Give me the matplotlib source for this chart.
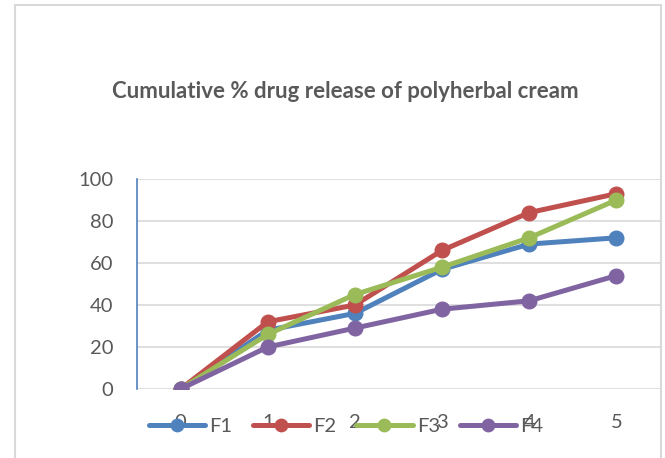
import matplotlib
matplotlib.use("Agg")
import matplotlib.pyplot as plt
from matplotlib.patches import Rectangle

plt.rcParams['font.family'] = ['Lato', 'DejaVu Sans']

# time points and cumulative % drug release for each formulation
time = [0, 1, 2, 3, 4, 5]
f1 = [0, 28, 36, 57, 69, 72]
f2 = [0, 32, 40, 66, 84, 93]
f3 = [0, 26, 45, 58, 72, 90]
f4 = [0, 20, 29, 38, 42, 54]

series = [("F1", f1, "#4F81BD"),
          ("F2", f2, "#C0504D"),
          ("F3", f3, "#9BBB59"),
          ("F4", f4, "#8064A2")]

W, H = 665, 458
fig = plt.figure(figsize=(W / 100, H / 100), dpi=100)

# light grey chart border, as in the Excel original
fig.patches.append(Rectangle((15 / W, -0.1), (661 - 15) / W, 1.1 - 5 / H,
                             transform=fig.transFigure, fill=False,
                             edgecolor="#d9d9d9", linewidth=1.5))

ax = fig.add_axes([137 / W, (H - 389) / H, (660 - 137) / W, (389 - 179) / H])

for name, vals, col in series:
    ax.plot(time, vals, color=col, linewidth=3.6, marker="o",
            markersize=10.5, label=name, solid_capstyle="round")

ax.set_xlim(-0.5, 5.5)
ax.set_ylim(0, 100)
ax.set_yticks(range(0, 101, 20))
ax.set_xticks(time)
ax.grid(axis="y", color="#d9d9d9", linewidth=1.2)
ax.set_axisbelow(True)
for s in ["top", "right", "bottom"]:
    ax.spines[s].set_visible(False)
ax.spines["left"].set_color("#4F81BD")
ax.spines["left"].set_linewidth(1.2)
ax.tick_params(axis="y", length=0, pad=17, labelsize=14.5, labelcolor="#595959")
ax.tick_params(axis="x", length=0, pad=18, labelsize=14.5, labelcolor="#595959")

fig.text(345 / W, 1 - 92 / H, "Cumulative % drug release of polyherbal cream",
         ha="center", va="center", fontsize=16, fontweight="bold",
         color="#595959")

# legend sits on top of the x tick labels, as in the reference
fig.legend(loc="center left", bbox_to_anchor=(149 / W, 1 - 426 / H), ncol=4,
           frameon=False, fontsize=14.5, handlelength=2.8, handletextpad=0.2,
           columnspacing=1.0, borderpad=0, borderaxespad=0,
           labelcolor="#595959", markerscale=0.85)

fig.savefig("out.png", dpi=100)
